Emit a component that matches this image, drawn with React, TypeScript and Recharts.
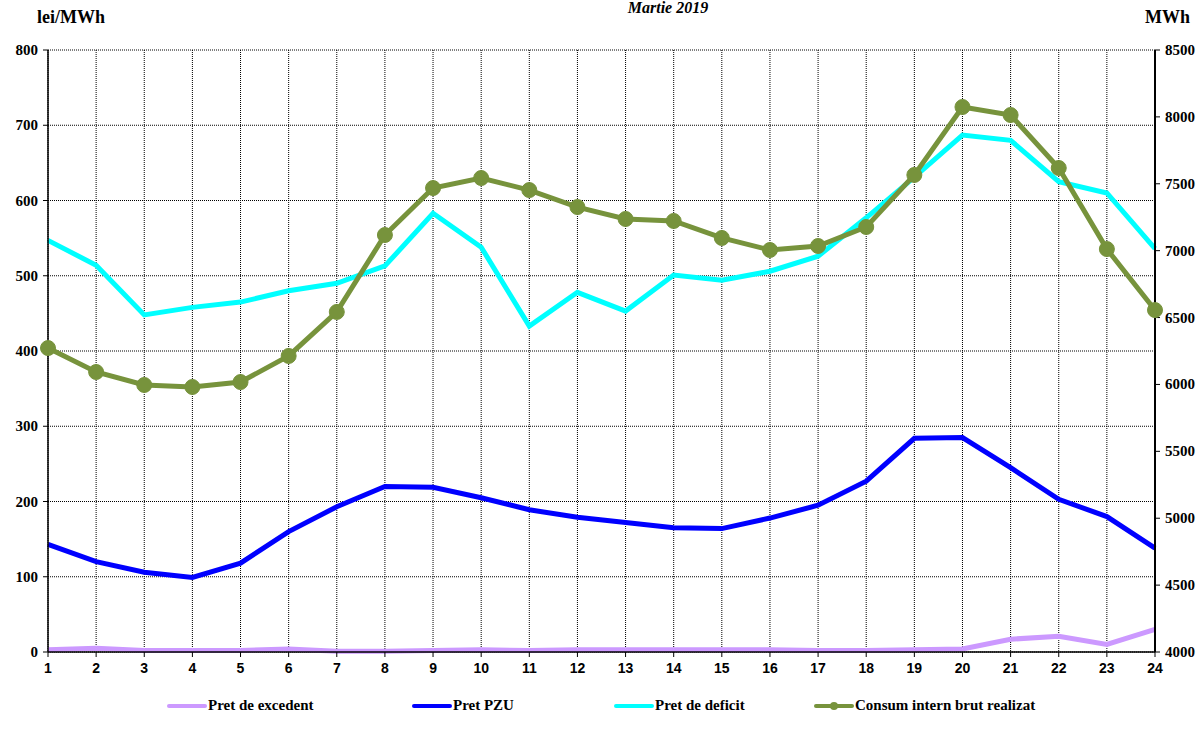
import { LineChart, Line, XAxis, YAxis, CartesianGrid, Legend } from 'recharts';

const hours = ['1', '2', '3', '4', '5', '6', '7', '8', '9', '10', '11', '12', '13', '14', '15', '16', '17', '18', '19', '20', '21', '22', '23', '24'];
const pretExcedent = [3, 5, 2, 2, 2, 4, 1, 1, 2, 3, 2, 3, 3, 3, 3, 3, 2, 2, 3, 4, 17, 21, 10, 30];
const pretPzu = [143, 120, 106, 99, 118, 160, 193, 220, 219, 205, 189, 179, 172, 165, 164, 178, 195, 227, 284, 285, 245, 203, 180, 138];
const pretDeficit = [547, 514, 448, 458, 465, 480, 490, 513, 583, 538, 433, 478, 453, 501, 494, 506, 526, 577, 631, 687, 680, 625, 610, 536];
const consum = [6272, 6093, 5996, 5981, 6018, 6213, 6542, 7117, 7468, 7543, 7453, 7326, 7237, 7222, 7095, 7005, 7035, 7177, 7566, 8074, 8014, 7618, 7012, 6556];

const leftTicks = [0, 100, 200, 300, 400, 500, 600, 700, 800];
const rightTicks = [4000, 4500, 5000, 5500, 6000, 6500, 7000, 7500, 8000, 8500];

const data = hours.map((h, i) => ({
  hour: h,
  excedent: pretExcedent[i],
  pzu: pretPzu[i],
  deficit: pretDeficit[i],
  consum: consum[i],
}));

const serif = '"Liberation Serif", "Times New Roman", serif';
const sans = '"Liberation Sans", Arial, sans-serif';

const legendItems = [
  { key: 'excedent', label: 'Pret de excedent', color: '#CC99FF', left: 166, dot: false },
  { key: 'pzu', label: 'Pret PZU', color: '#0000FF', left: 411, dot: false },
  { key: 'deficit', label: 'Pret de deficit', color: '#00FFFF', left: 613, dot: false },
  { key: 'consum', label: 'Consum intern brut realizat', color: '#77933C', left: 813, dot: true },
];

function XTick(props: any) {
  const { x, y, payload } = props;
  return (
    <text x={x} y={y + 12} textAnchor="middle" style={{ fontFamily: sans, fontWeight: 700, fontSize: 14, fill: '#000' }}>
      {payload.value}
    </text>
  );
}

function LeftTick(props: any) {
  const { x, y, payload } = props;
  return (
    <text x={x - 1} y={y + 5} textAnchor="end" style={{ fontFamily: serif, fontWeight: 700, fontSize: 15, fill: '#000' }}>
      {payload.value}
    </text>
  );
}

function RightTick(props: any) {
  const { x, y, payload } = props;
  return (
    <text x={x + 2} y={y + 5} textAnchor="start" style={{ fontFamily: serif, fontWeight: 700, fontSize: 15, fill: '#000' }}>
      {payload.value}
    </text>
  );
}

function ChartLegend() {
  return (
    <div style={{ position: 'relative', width: 1200, height: 20 }}>
      {legendItems.map((it) => (
        <div
          key={it.key}
          style={{
            position: 'absolute',
            left: it.left,
            top: 0,
            display: 'flex',
            alignItems: 'center',
            fontFamily: serif,
            fontWeight: 700,
            fontSize: 15,
            color: '#000',
          }}
        >
          <svg width={42} height={12}>
            <line x1={3} y1={6} x2={39} y2={6} stroke={it.color} strokeWidth={4} strokeLinecap="round" />
            {it.dot && <circle cx={21} cy={6} r={4} fill={it.color} />}
          </svg>
          <span>{it.label}</span>
        </div>
      ))}
    </div>
  );
}

export default function App() {
  return (
    <div style={{ position: 'absolute', left: 0, top: 0, width: 1200, height: 742, background: '#fff' }}>
      <div
        style={{
          position: 'absolute',
          left: 0,
          width: 1336,
          top: -1,
          textAlign: 'center',
          fontFamily: serif,
          fontWeight: 700,
          fontStyle: 'italic',
          fontSize: 16,
        }}
      >
        Martie 2019
      </div>
      <div style={{ position: 'absolute', left: 37, top: 7, fontFamily: serif, fontWeight: 700, fontSize: 18 }}>
        lei/MWh
      </div>
      <div style={{ position: 'absolute', left: 1145, top: 7, fontFamily: serif, fontWeight: 700, fontSize: 18 }}>
        MWh
      </div>
      <LineChart
        width={1200}
        height={742}
        data={data}
        margin={{ top: 50, right: 0, left: 0, bottom: 0 }}
      >
        <CartesianGrid yAxisId="left" stroke="#000" strokeDasharray="1 1" strokeWidth={1} />
        <XAxis
          dataKey="hour"
          height={70}
          interval={0}
          tickSize={5}
          tickMargin={4}
          axisLine={{ stroke: '#000', strokeWidth: 1.5 }}
          tickLine={{ stroke: '#000' }}
          tick={<XTick />}
        />
        <YAxis
          yAxisId="left"
          domain={[0, 800]}
          ticks={leftTicks}
          width={48}
          tickSize={5}
          tickMargin={4}
          axisLine={{ stroke: '#000', strokeWidth: 1.5 }}
          tickLine={{ stroke: '#000' }}
          tick={<LeftTick />}
        />
        <YAxis
          yAxisId="right"
          orientation="right"
          domain={[4000, 8500]}
          ticks={rightTicks}
          width={45}
          tickSize={5}
          tickMargin={3}
          axisLine={{ stroke: '#000', strokeWidth: 2 }}
          tickLine={{ stroke: '#000' }}
          tick={<RightTick />}
        />
        <Legend
          verticalAlign="bottom"
          content={() => <ChartLegend />}
          wrapperStyle={{ position: 'absolute', left: 0, top: 697, width: 1200 }}
        />
        <Line
          yAxisId="left"
          type="linear"
          dataKey="excedent"
          name="Pret de excedent"
          stroke="#CC99FF"
          strokeWidth={5}
          dot={false}
          isAnimationActive={false}
        />
        <Line
          yAxisId="left"
          type="linear"
          dataKey="pzu"
          name="Pret PZU"
          stroke="#0000FF"
          strokeWidth={5}
          dot={false}
          isAnimationActive={false}
        />
        <Line
          yAxisId="left"
          type="linear"
          dataKey="deficit"
          name="Pret de deficit"
          stroke="#00FFFF"
          strokeWidth={5}
          dot={false}
          isAnimationActive={false}
        />
        <Line
          yAxisId="right"
          type="linear"
          dataKey="consum"
          name="Consum intern brut realizat"
          stroke="#77933C"
          strokeWidth={5}
          dot={{ r: 7.5, fill: '#77933C', stroke: '#77933C', strokeWidth: 1 }}
          isAnimationActive={false}
        />
      </LineChart>
    </div>
  );
}
